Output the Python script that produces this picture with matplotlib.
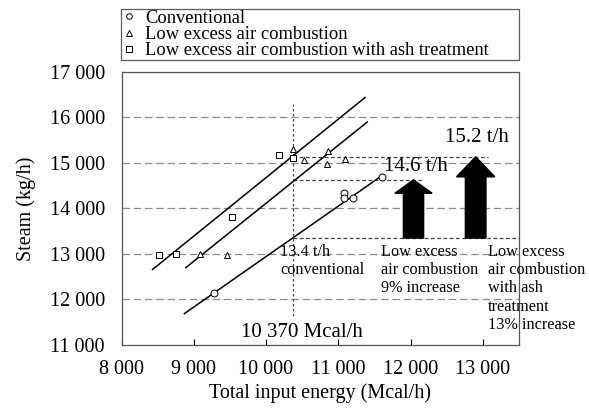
import matplotlib
matplotlib.use("Agg")
import matplotlib.pyplot as plt
from matplotlib.ticker import FuncFormatter

plt.rcParams['font.family'] = ['Liberation Serif', 'DejaVu Serif']

# ---- data ----
conv_x = [9280, 11080, 11080, 11200, 11600]
conv_y = [12150, 14350, 14240, 14240, 14700]
low_x = [9090, 9460, 10370, 10530, 10840, 10860, 11090]
low_y = [13010, 12980, 15310, 15070, 14980, 15270, 15090]
ash_x = [8520, 8750, 9530, 10180, 10370]
ash_y = [12980, 13010, 13820, 15170, 15120]

# fitted trend lines (start, end)
conv_line_x = [8870, 11620]
conv_line_y = [11690, 14740]
low_line_x = [8890, 11400]
low_line_y = [12700, 15900]
ash_line_x = [8430, 11370]
ash_line_y = [12660, 16440]

ref_energy = 10370
ref_line_y = [11640, 16300]
levels = [13350, 14630, 15136]          # 13.4, 14.6, 15.2 t/h
level_ends = [13500, 12155, 13070]
arrow_x = [12040, 12900]

x_ticks = [8000, 9000, 10000, 11000, 12000, 13000]
y_ticks = [11000, 12000, 13000, 14000, 15000, 16000, 17000]
legend_labels = ["Conventional", "Low excess air combustion",
                 "Low excess air combustion with ash treatment"]

fig = plt.figure(figsize=(5.89, 4.09), dpi=100)
ax = fig.add_axes([0.2063, 0.1565, 0.6749, 0.6675])

ax.set_xlim(8000, 13500)
ax.set_ylim(11000, 17000)

for yv in y_ticks[1:-1]:
    ax.axhline(yv, color='#8c8c8c', lw=0.9, ls=(0, (6, 3)), zorder=0)

mk = dict(ls='none', mfc='white', mec='black', mew=0.7, ms=5, zorder=4)
h1, = ax.plot(conv_x, conv_y, marker='o', **mk)
h2, = ax.plot(low_x, low_y, marker='^', **mk)
h3, = ax.plot(ash_x, ash_y, marker='s', **mk)

for lx, ly in [(conv_line_x, conv_line_y), (low_line_x, low_line_y), (ash_line_x, ash_line_y)]:
    ax.plot(lx, ly, color='black', lw=1.1, zorder=3)

ax.plot([ref_energy, ref_energy], ref_line_y, color='#444444', lw=0.9, ls=(0, (2, 2)), zorder=2)
for lv, le in zip(levels, level_ends):
    ax.plot([ref_energy, le], [lv, lv], color='#444444', lw=0.9, ls=(0, (3, 2)), zorder=2)

# arrows
ax.arrow(arrow_x[0], levels[0], 0, levels[1] - levels[0], width=280, head_width=515,
         head_length=295, length_includes_head=True, color='black', zorder=5)
ax.arrow(arrow_x[1], levels[0], 0, levels[2] - levels[0], width=285, head_width=530,
         head_length=440, length_includes_head=True, color='black', zorder=5)

ax.text(11630, 14923, "14.6 t/h", fontsize=15, ha='left', va='center')
ax.text(13360, 15555, "15.2 t/h", fontsize=15, ha='right', va='center')
ax.text(10491, 11282, "10 370 Mcal/h", fontsize=15, ha='center', va='center')
kw = dict(fontsize=11.7, ha='left', va='top', linespacing=1.2)
ax.text(10193, 13230, "13.4 t/h\nconventional", **kw)
ax.text(11585, 13230, "Low excess\nair combustion\n9% increase", **kw)
ax.text(13065, 13230, "Low excess\nair combustion\nwith ash\ntreatment\n13% increase", **kw)

fmt = FuncFormatter(lambda v, p: f"{int(v):,}".replace(",", " "))
ax.set_xticks(x_ticks)
ax.set_yticks(y_ticks)
ax.xaxis.set_major_formatter(fmt)
ax.yaxis.set_major_formatter(fmt)
ax.tick_params(axis='x', direction='in', length=4, width=0.8, labelsize=14.5, pad=11)
ax.tick_params(axis='y', length=0, labelsize=14.5, pad=12)
ax.set_xlabel("Total input energy (Mcal/h)", fontsize=14.5, labelpad=3)
ax.set_ylabel("Steam (kg/h)", fontsize=14.5, labelpad=10)
for s in ax.spines.values():
    s.set_linewidth(0.9)
    s.set_color('#555555')

leg = fig.legend([h1, h2, h3], legend_labels, loc='upper left',
                 bbox_to_anchor=(0.2054, 0.846, 0.676, 0.132), mode='expand',
                 fontsize=13.3, frameon=True, fancybox=False, handlelength=0.8,
                 handletextpad=0.45, borderpad=0.05, labelspacing=-0.05,
                 borderaxespad=0, markerscale=0.8)
leg.get_frame().set_edgecolor('#333333')
leg.get_frame().set_linewidth(0.9)

fig.savefig("out.png", dpi=100)
